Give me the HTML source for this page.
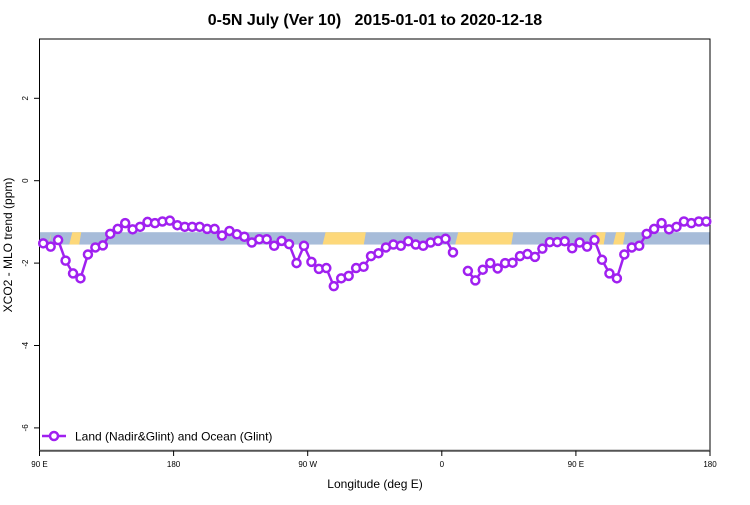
<!DOCTYPE html>
<html><head><meta charset="utf-8"><style>
body{margin:0;background:#fff;font-family:"Liberation Sans",sans-serif}
svg text{font-family:"Liberation Sans",sans-serif}
</style></head><body>
<svg id="chart" width="750" height="500" viewBox="0 0 750 500">
<text x="375" y="25" text-anchor="middle" font-size="16" font-weight="bold" style="white-space:pre">0-5N July (Ver 10)   2015-01-01 to 2020-12-18</text>
<g id="band"></g>
<g id="axes"></g>
<g id="series"></g>
<text x="375" y="488" text-anchor="middle" font-size="12">Longitude (deg E)</text>
<text transform="translate(12,245) rotate(-90)" text-anchor="middle" font-size="12">XCO2 - MLO trend (ppm)</text>
<g>
<line x1="42" y1="436" x2="66" y2="436" stroke="#a020f0" stroke-width="2.5"/>
<circle cx="54" cy="436" r="4" fill="#fff" stroke="#a020f0" stroke-width="2.5"/>
<text x="75" y="440.5" font-size="12">Land (Nadir&amp;Glint) and Ocean (Glint)</text>
</g>
</svg>
<script>
const values=[-1.52,-1.60,-1.44,-1.94,-2.25,-2.37,-1.79,-1.62,-1.57,-1.29,
-1.17,-1.03,-1.18,-1.12,-1.00,-1.03,-0.99,-0.97,-1.08,-1.12,
-1.12,-1.12,-1.17,-1.17,-1.33,-1.22,-1.30,-1.36,-1.50,-1.42,
-1.42,-1.58,-1.46,-1.54,-2.00,-1.58,-1.97,-2.14,-2.12,-2.56,
-2.37,-2.31,-2.12,-2.09,-1.83,-1.76,-1.62,-1.55,-1.58,-1.47,
-1.55,-1.58,-1.50,-1.46,-1.41,-1.74,null,-2.19,-2.42,-2.16,
-2.00,-2.13,-2.00,-1.99,-1.83,-1.78,-1.85,-1.65,-1.49,-1.49,
-1.47,-1.64,-1.50,-1.60,-1.44,-1.92,-2.25,-2.37,-1.79,-1.62,
-1.58,-1.29,-1.17,-1.03,-1.18,-1.12,-0.99,-1.03,-0.99,-0.99];
const lonStart=92.5, lonStep=5;
const yTicks=[2,0,-2,-4,-6];
const xTickLons=[90,180,270,360,450,540];
const xTickLabels=["90 E","180","90 W","0","90 E","180"];
const bandRange=[-1.25,-1.55];
const landLonRanges=[[96,98],[110,118],[280,309],[369,408],[462,470],[475,483]];
const ns="http://www.w3.org/2000/svg";
const X=l=>39.5+(l-90)*(670.5/450);
const Y=v=>180.7-v*41.2;
function mk(t,a,p){const e=document.createElementNS(ns,t);for(const k in a)e.setAttribute(k,a[k]);p.appendChild(e);return e;}
const band=document.getElementById('band'),axes=document.getElementById('axes'),ser=document.getElementById('series');
let b=mk('rect',{x:39.5,y:Y(bandRange[0]),width:670.5,height:Y(bandRange[1])-Y(bandRange[0]),fill:'#a7bcd9'},band);


landLonRanges.forEach(r=>{const y0=Y(bandRange[0]),y1=Y(bandRange[1]);
let p=mk('polygon',{points:`${X(r[0])+3},${y0} ${X(r[1])},${y0} ${X(r[1])-2},${y1} ${X(r[0])},${y1}`,fill:'#fdd87a'},band);

});
mk('rect',{x:39.5,y:39,width:670.5,height:411.7,fill:'none',stroke:'#000','stroke-width':1},axes);
mk('line',{x1:39.5,y1:450.7,x2:710,y2:450.7,stroke:'#555','stroke-width':2},axes);
yTicks.forEach(v=>{mk('line',{x1:34,y1:Y(v),x2:39.5,y2:Y(v),stroke:'#000'},axes);
let t=mk('text',{transform:`translate(28,${Y(v)}) rotate(-90)`,'text-anchor':'middle','font-size':8},axes);t.textContent=v;

});
xTickLons.forEach((l,i)=>{mk('line',{x1:X(l),y1:450.7,x2:X(l),y2:456,stroke:'#000'},axes);
let t=mk('text',{x:X(l),y:467,'text-anchor':'middle','font-size':8},axes);t.textContent=xTickLabels[i];

});
let segs=[],cur=[];
values.forEach((v,i)=>{if(v===null){if(cur.length)segs.push(cur);cur=[];}else cur.push([X(lonStart+i*lonStep),Y(v)]);});
if(cur.length)segs.push(cur);
segs.forEach(s=>{let pl=mk('polyline',{points:s.map(p=>p.join(',')).join(' '),fill:'none',stroke:'#a020f0','stroke-width':2.5},ser);

});
values.forEach((v,i)=>{if(v===null)return;
let c=mk('circle',{cx:X(lonStart+i*lonStep),cy:Y(v),r:4,fill:'#fff',stroke:'#a020f0','stroke-width':2.5},ser);

});
</script>
</body></html>
